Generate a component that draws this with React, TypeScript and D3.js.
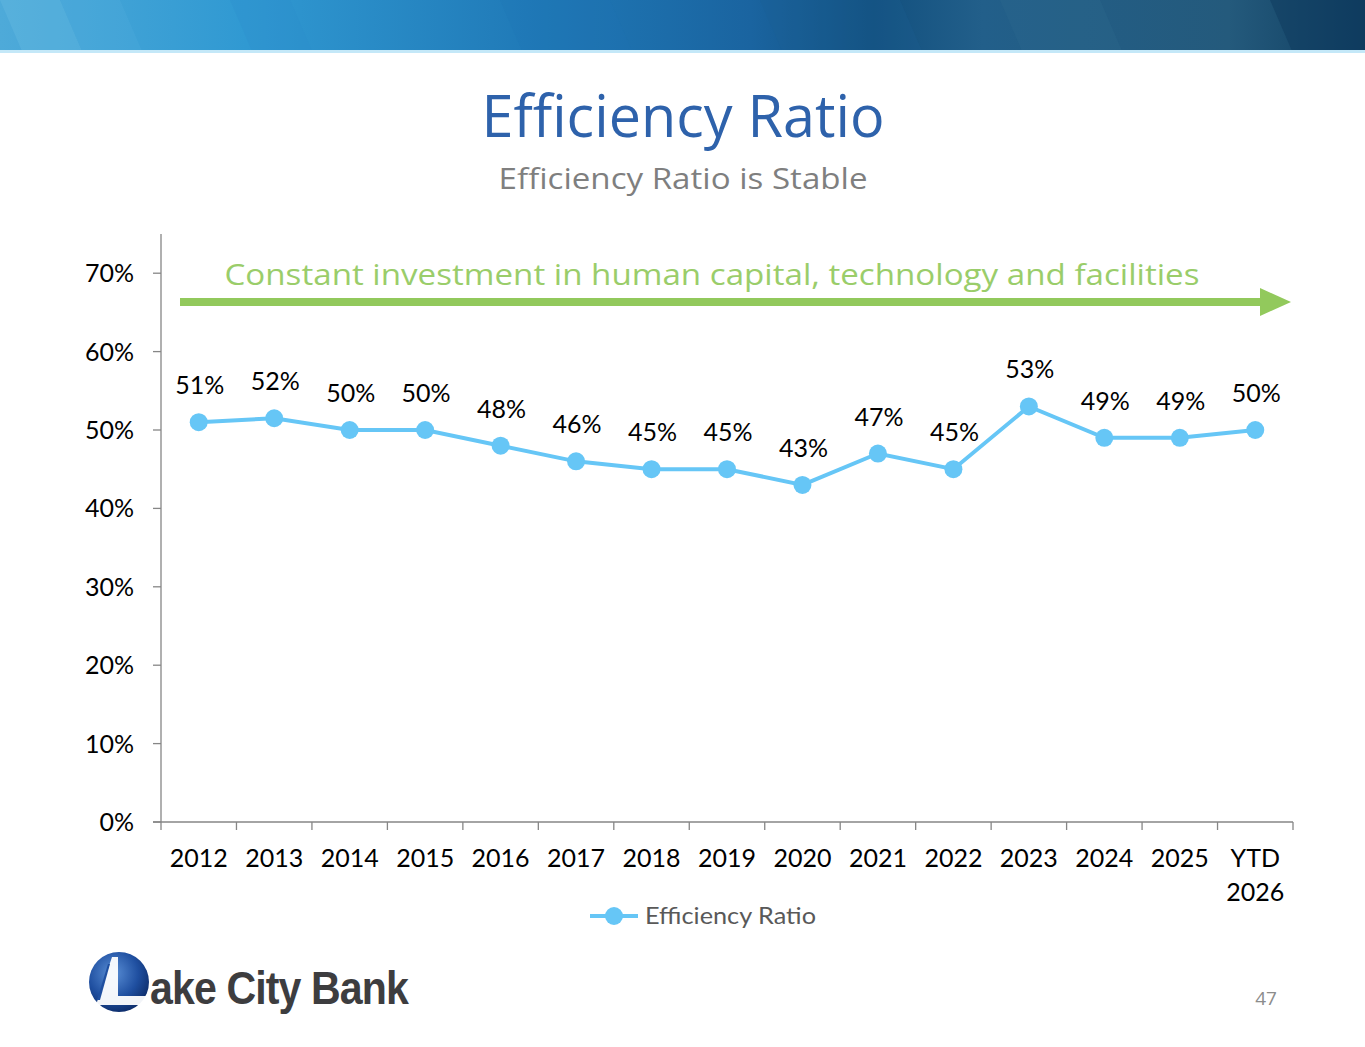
import React from "react";
import * as d3 from "d3";

const categories: string[] = ["2012","2013","2014","2015","2016","2017","2018","2019","2020","2021","2022","2023","2024","2025","YTD 2026"];
const ratioValues: number[] = [0.51,0.515,0.50,0.50,0.48,0.46,0.45,0.45,0.43,0.47,0.45,0.53,0.49,0.49,0.50];
const ratioLabels: string[] = ["51%","52%","50%","50%","48%","46%","45%","45%","43%","47%","45%","53%","49%","49%","50%"];
const yTicks: number[] = [0,0.1,0.2,0.3,0.4,0.5,0.6,0.7];

const W = 1365, H = 1047;
const FONT = "'Open Sans', 'Noto Sans', sans-serif";
const LFONT = "Lato, 'Open Sans', sans-serif";
const LINE = "#66c6f6";

export default function App() {
  const x = d3.scalePoint<string>().domain(categories).range([161, 1293]).padding(0.5);
  const step = x.step();
  const y = d3.scaleLinear().domain([0, 0.75]).range([822, 234]);
  const line = d3.line<number>().x((_, i) => x(categories[i])!).y(d => y(d));
  const fmt = d3.format(".0%");
  const bounds = d3.range(categories.length + 1).map(i => 161 + i * step);

  const stripes = [
    { x0: 0, x1: 60, c: "#6bbce3", o: 0.35 },
    { x0: 60, x1: 120, c: "#53b0e0", o: 0.25 },
    { x0: 230, x1: 290, c: "#2a8ccb", o: 0.25 },
    { x0: 500, x1: 610, c: "#1e74b3", o: 0.2 },
    { x0: 760, x1: 900, c: "#1a5e95", o: 0.25 },
    { x0: 1000, x1: 1100, c: "#2f6a8f", o: 0.3 },
    { x0: 1270, x1: 1365, c: "#0d3a5d", o: 0.5 },
  ];

  return (
    <svg width={W} height={H} style={{ position: "absolute", left: 0, top: 0, background: "#fff" }} fontFamily={FONT}>
      <defs>
        <linearGradient id="ban" x1="0" x2="1" y1="0" y2="0">
          <stop offset="0" stopColor="#4eaad9" />
          <stop offset="0.18" stopColor="#3099d2" />
          <stop offset="0.4" stopColor="#1f78b6" />
          <stop offset="0.55" stopColor="#1a64a0" />
          <stop offset="0.64" stopColor="#12507f" />
          <stop offset="0.72" stopColor="#225f8a" />
          <stop offset="0.9" stopColor="#245a7c" />
          <stop offset="1" stopColor="#0f3d60" />
        </linearGradient>
        <radialGradient id="globe" cx="0.4" cy="0.35" r="0.7">
          <stop offset="0" stopColor="#5a8fd6" />
          <stop offset="0.6" stopColor="#1f4fa0" />
          <stop offset="1" stopColor="#0c2a66" />
        </radialGradient>
      </defs>

      {/* Header banner */}
      <rect x={0} y={0} width={W} height={51} fill="url(#ban)" />
      {stripes.map((s, i) => (
        <polygon key={i} points={`${s.x0},0 ${s.x1},0 ${s.x1 + 22},51 ${s.x0 + 22},51`} fill={s.c} opacity={s.o} />
      ))}
      <rect x={0} y={50} width={W} height={3} fill="#c4e8f8" />

      {/* Titles */}
      <text x={683} y={137} textAnchor="middle" fontSize={58} fill="#2e62ab" textLength={403} lengthAdjust="spacingAndGlyphs">Efficiency Ratio</text>
      <text x={683} y={189} textAnchor="middle" fontSize={30} fill="#7f7f7f" textLength={369} lengthAdjust="spacingAndGlyphs">Efficiency Ratio is Stable</text>

      {/* Green annotation */}
      <text x={712} y={285} textAnchor="middle" fontSize={30} fill="#9acd6a" textLength={975} lengthAdjust="spacingAndGlyphs">Constant investment in human capital, technology and facilities</text>
      <rect x={180} y={298} width={1085} height={8} fill="#92c95c" />
      <polygon points="1260,288 1291,302 1260,316" fill="#92c95c" />

      {/* Axes */}
      <g stroke="#868686" strokeWidth={1.3}>
        <line x1={161} x2={161} y1={234} y2={822} />
        <line x1={153} x2={1293} y1={822} y2={822} />
        {yTicks.map(t => <line key={t} x1={153} x2={161} y1={y(t)} y2={y(t)} />)}
        {bounds.map((b, i) => <line key={i} x1={b} x2={b} y1={822} y2={830} />)}
      </g>
      <g fontSize={25} fill="#000" fontFamily={LFONT}>
        {yTicks.map(t => (
          <text key={t} x={134} y={y(t) + 9} textAnchor="end">{fmt(t)}</text>
        ))}
        {categories.map(c => {
          const parts = c.split(" ");
          return (
            <text key={c} x={x(c)!} y={867} textAnchor="middle">
              {parts.map((p, k) => <tspan key={k} x={x(c)!} dy={k === 0 ? 0 : 34}>{p}</tspan>)}
            </text>
          );
        })}
      </g>

      {/* Series */}
      <path d={line(ratioValues)!} fill="none" stroke={LINE} strokeWidth={4} />
      {ratioValues.map((v, i) => (
        <circle key={i} cx={x(categories[i])!} cy={y(v)} r={9} fill={LINE} />
      ))}
      <g fontSize={25} fill="#000" fontFamily={LFONT}>
        {ratioValues.map((v, i) => (
          <text key={i} x={x(categories[i])! + 1} y={y(v) - 28} textAnchor="middle">{ratioLabels[i]}</text>
        ))}
      </g>

      {/* Legend */}
      <line x1={590} x2={638} y1={916} y2={916} stroke={LINE} strokeWidth={4} />
      <circle cx={614} cy={916} r={9} fill={LINE} />
      <text x={645} y={924} fontSize={23} fill="#595959" fontFamily={LFONT} textLength={171} lengthAdjust="spacingAndGlyphs">Efficiency Ratio</text>

      {/* Logo */}
      <circle cx={119} cy={982} r={30} fill="url(#globe)" />
      <polygon points="112,957 118,957 118,996 150,996 150,1005 96,1005" fill="#fff" opacity={0.95} />
      <polygon points="108,964 110,964 100,1000 97,1000" fill="#1f4fa0" />
      <text x={150} y={1004} fontSize={46} fontWeight="bold" fill="#3d3d3f" fontFamily="'Liberation Sans Narrow', 'Liberation Sans', Arial, sans-serif" textLength={258} lengthAdjust="spacingAndGlyphs" letterSpacing={-1}>ake City Bank</text>

      {/* Page number */}
      <text x={1266} y={1005} textAnchor="middle" fontSize={19} fill="#8c8c8c">47</text>
    </svg>
  );
}
